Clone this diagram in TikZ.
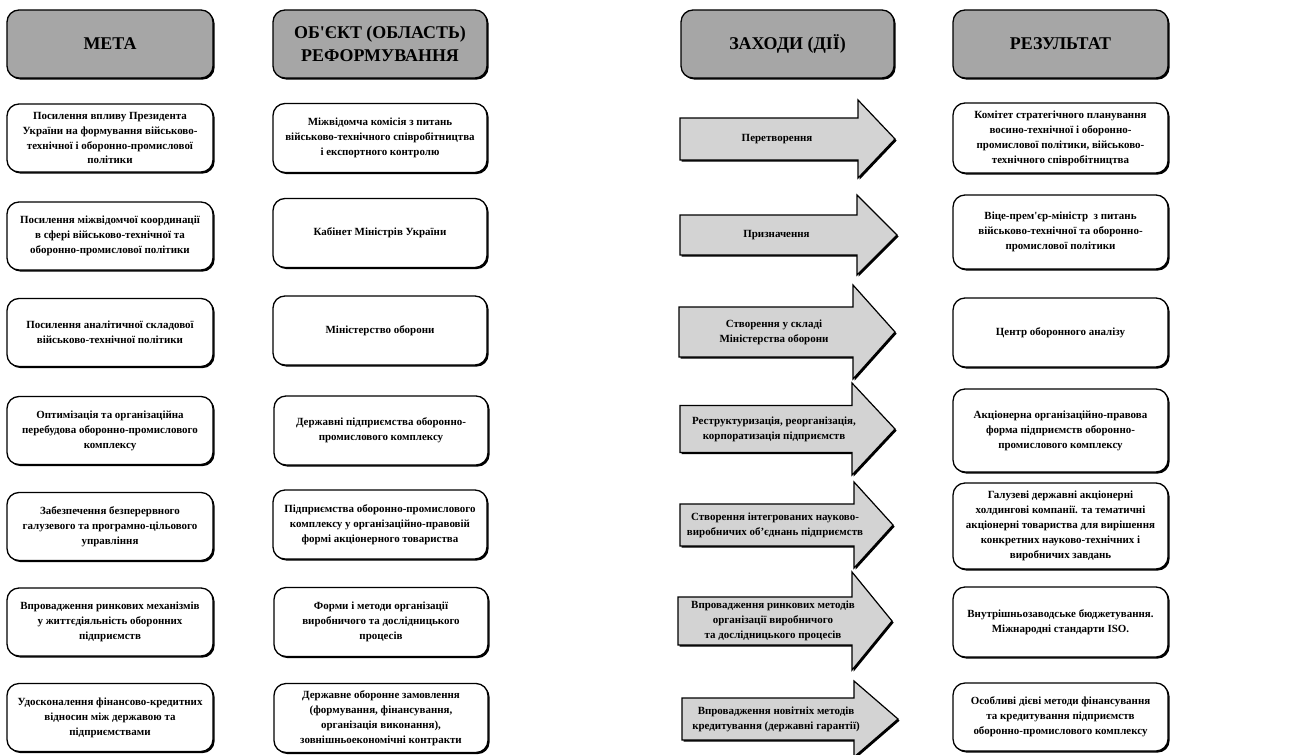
\documentclass[tikz,border=0pt]{standalone}
\usepackage{fontspec}
\setmainfont{Liberation Serif}
\newfontfamily\ukfont{Liberation Serif}
\usetikzlibrary{shadows}
\definecolor{hgray}{RGB}{166,166,166}
\definecolor{agray}{RGB}{211,211,211}
\tikzset{
  box/.style={draw, line width=1.3bp, rounded corners=12bp, fill=white, align=center,
    font=\ukfont\bfseries\fontsize{11}{15}\selectfont, inner sep=2bp,
    drop shadow={shadow xshift=1.6bp, shadow yshift=-1.6bp, fill=black, opacity=1}},
  hdr/.style={box, fill=hgray, font=\ukfont\bfseries\fontsize{18}{23}\selectfont},
  atext/.style={align=center, font=\ukfont\bfseries\fontsize{11}{15}\selectfont, inner sep=1bp},
  arrowshape/.style={draw, line width=1.2bp, line join=miter, fill=agray},
  arrowshadow/.style={fill=black}
}
% name, cy, shaft half, head half, left, base, tip
\newcommand\bigarrow[7]{%
  \fill[arrowshadow] ({#5+1.6},{#2-#3+1.6}) -- ({#6+1.6},{#2-#3+1.6}) -- ({#6+1.6},{#2-#4+1.6}) -- ({#7+1.6},{#2+1.6}) -- ({#6+1.6},{#2+#4+1.6}) -- ({#6+1.6},{#2+#3+1.6}) -- ({#5+1.6},{#2+#3+1.6}) -- cycle;
  \path[arrowshape] ({#5},{#2-#3}) -- ({#6},{#2-#3}) -- ({#6},{#2-#4}) -- ({#7},{#2}) -- ({#6},{#2+#4}) -- ({#6},{#2+#3}) -- ({#5},{#2+#3}) -- cycle;
  \coordinate (#1) at ({(#5+#6)/2+8},{#2});
}
\begin{document}
\begin{tikzpicture}[x=1bp,y=-1bp]
\useasboundingbox (0,0) rectangle (1299,754);
% headers
\node[hdr, minimum width=206bp, minimum height=68bp] (h1) at (110,44) {МЕТА};
\node[hdr, minimum width=214bp, minimum height=68bp] (h2) at (380,44) {ОБ'ЄКТ (ОБЛАСТЬ)\\РЕФОРМУВАННЯ};
\node[hdr, minimum width=213bp, minimum height=68bp] (h3) at (787.5,44) {ЗАХОДИ (ДІЇ)};
\node[hdr, minimum width=215bp, minimum height=68bp] (h4) at (1060.5,44) {РЕЗУЛЬТАТ};
% column 1
\begin{scope}[every node/.style={box, minimum width=206bp, minimum height=68bp}]
\node (m1) at (110,138) {Посилення впливу Президента\\України на формування військово-\\технічної і оборонно-промислової\\політики};
\node (m2) at (110,236) {Посилення міжвідомчої координації\\в сфері військово-технічної та\\оборонно-промислової політики};
\node (m3) at (110,332.5) {Посилення аналітичної складової\\військово-технічної політики};
\node (m4) at (110,430.5) {Оптимізація та організаційна\\перебудова оборонно-промислового\\комплексу};
\node (m5) at (110,526.5) {Забезпечення безперервного\\галузевого та програмно-цільового\\управління};
\node (m6) at (110,622) {Впровадження ринкових механізмів\\у життєдіяльність оборонних\\підприємств};
\node (m7) at (110,717.5) {Удосконалення фінансово-кредитних\\відносин між державою та\\підприємствами};
\end{scope}
% column 2
\begin{scope}[every node/.style={box, minimum width=214bp, minimum height=69bp}]
\node (o1) at (380,138) {Міжвідомча комісія з питань\\військово-технічного співробітництва\\і експортного контролю};
\node (o2) at (380,233) {Кабінет Міністрів України};
\node (o3) at (380,330.5) {Міністерство оборони};
\node (o4) at (381,430.5) {Державні підприємства оборонно-\\промислового комплексу};
\node (o5) at (380,524.5) {Підприємства оборонно-промислового\\комплексу у організаційно-правовій\\формі акціонерного товариства};
\node (o6) at (381,622) {Форми і методи організації\\виробничого та дослідницького\\процесів};
\node (o7) at (381,718) {Державне оборонне замовлення\\(формування, фінансування,\\організація виконання),\\зовнішньоекономічні контракти};
\end{scope}
% column 3 arrows
\bigarrow{c1}{139}{21}{39}{680}{858}{895}
\bigarrow{c2}{235}{20}{40}{680}{857}{897}
\bigarrow{c3}{332}{25}{47}{679}{853}{895}
\bigarrow{c4}{429}{23.5}{46}{680}{852}{895}
\bigarrow{c5}{525}{21}{43}{680}{854}{893}
\bigarrow{c6}{621}{24}{49}{678}{852}{892}
\bigarrow{c7}{719}{21}{38}{682}{854}{898}
\node[atext] (t1) at (c1) {Перетворення};
\node[atext] (t2) at (c2) {Призначення};
\node[atext] (t3) at (c3) {Створення у складі\\Міністерства оборони};
\node[atext] (t4) at (c4) {Реструктуризація, реорганізація,\\корпоратизація підприємств};
\node[atext] (t5) at (c5) {Створення інтегрованих науково-\\виробничих об’єднань підприємств};
\node[atext] (t6) at (c6) {Впровадження ринкових методів\\організації виробничого\\та дослідницького процесів};
\node[atext] (t7) at (c7) {Впровадження новітніх методів\\кредитування (державні гарантії)};
% column 4
\begin{scope}[every node/.style={box, minimum width=215bp}]
\node[minimum height=70bp] (r1) at (1060.5,138) {Комітет стратегічного планування\\восино-технічної і оборонно-\\промислової політики, військово-\\технічного співробітництва};
\node[minimum height=74bp] (r2) at (1060.5,232) {Віце-прем'єр-міністр \ з питань\\військово-технічної та оборонно-\\промислової політики};
\node[minimum height=69bp] (r3) at (1060.5,332.5) {Центр оборонного аналізу};
\node[minimum height=83bp] (r4) at (1060.5,430.5) {Акціонерна організаційно-правова\\форма підприємств оборонно-\\промислового комплексу};
\node[minimum height=86bp] (r5) at (1060.5,526) {Галузеві державні акціонерні\\холдингові компанії. та тематичні\\акціонерні товариства для вирішення\\конкретних науково-технічних і\\виробничих завдань};
\node[minimum height=70bp] (r6) at (1060.5,622) {Внутрішньозаводське бюджетування.\\Міжнародні стандарти ISO.};
\node[minimum height=68bp] (r7) at (1060.5,717) {Особливі дієві методи фінансування\\та кредитування підприємств\\оборонно-промислового комплексу};
\end{scope}
\end{tikzpicture}
\end{document}
